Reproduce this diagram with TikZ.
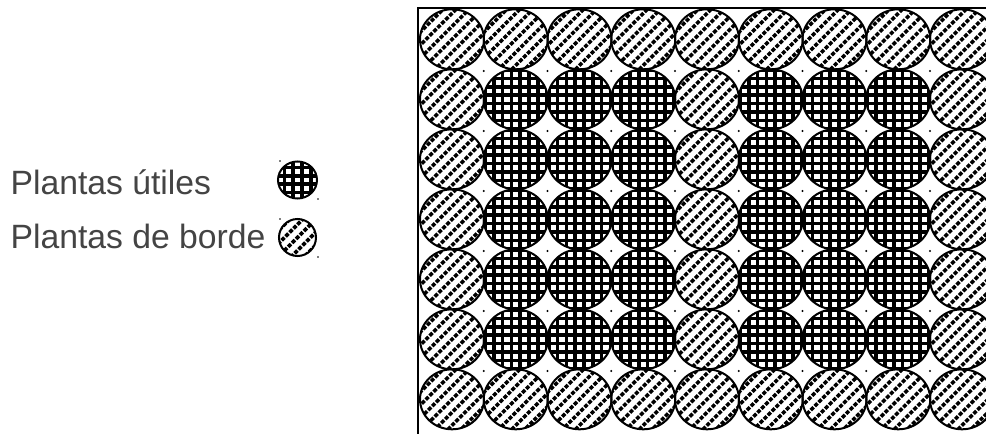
\documentclass[tikz,border=0pt]{standalone}
\usepackage{fontspec}
\setmainfont{Liberation Sans}
\definecolor{legendgray}{HTML}{444444}

\begin{document}
\begin{tikzpicture}[
  x=1pt, y=-1pt,
  legend/.style={text=legendgray,inner sep=0pt,anchor=base west,
    font=\fontsize{33.7}{40}\selectfont},
  rim/.style={line width=2pt},
  gap/.style={fill=black},
  pics/useful/.style 2 args={code={
    \begin{scope}
      \clip (0,0) ellipse [x radius=#1, y radius=#2];
      \foreach \k in {-5,...,5} {
        \draw[line width=3.6pt] (\k*8.8+4.4,-40) -- (\k*8.8+4.4,40);
        \draw[line width=3.6pt] (-40,\k*8.4+4.2) -- (40,\k*8.4+4.2);
      }
    \end{scope}
    \draw[rim] (0,0) ellipse [x radius=#1, y radius=#2];
  }},
  pics/border/.style 2 args={code={
    \begin{scope}
      \clip (0,0) ellipse [x radius=#1, y radius=#2];
      \foreach \o in {-78,-65,...,78}
        \draw[line width=3.6pt,dash pattern=on 4pt off 1.6pt]
          (\o/2-45,\o/2+45) -- (\o/2+45,\o/2-45);
    \end{scope}
    \draw[rim] (0,0) ellipse [x radius=#1, y radius=#2];
  }}
]
  \useasboundingbox (0,0) rectangle (986,434);

  % Legend
  \node[legend] (usefultext) at (10.4,194.5) {Plantas útiles};
  \node[legend] (bordertext) at (10.4,248.5) {Plantas de borde};
  \pic (usefulkey) at (297.5,180) {useful={19.5}{18.5}};
  \pic (borderkey) at (297.5,237.5) {border={18.5}{18.5}};
  \foreach \p in {(280,161),(318,199),(280,219),(318,257)}
    \fill[gap] \p circle (0.8);

  % Plot: 9 columns x 7 rows, outer ring and middle column are border plants
  \foreach \c in {1,...,9} {
    \foreach \r in {1,...,7} {
      \pgfmathsetmacro{\px}{452+63.75*(\c-1)}
      \pgfmathsetmacro{\py}{39.3+60*(\r-1)}
      \ifnum\c=1 \def\kind{border}\else
      \ifnum\c=9 \def\kind{border}\else
      \ifnum\c=5 \def\kind{border}\else
      \ifnum\r=1 \def\kind{border}\else
      \ifnum\r=7 \def\kind{border}\else
        \def\kind{useful}\fi\fi\fi\fi\fi
      \pic at (\px,\py) {\kind={32}{30}};
    }
  }

  % small marks where four plants meet
  \foreach \c in {1,...,8}
    \foreach \r in {1,...,6}
      \fill[gap] ({420+63.75*\c},{11+60*\r}) circle (1.1);

  % plot edge
  \draw[line width=1.3pt] (986,8) -- (418,8) -- (418,434);
\end{tikzpicture}
\end{document}
